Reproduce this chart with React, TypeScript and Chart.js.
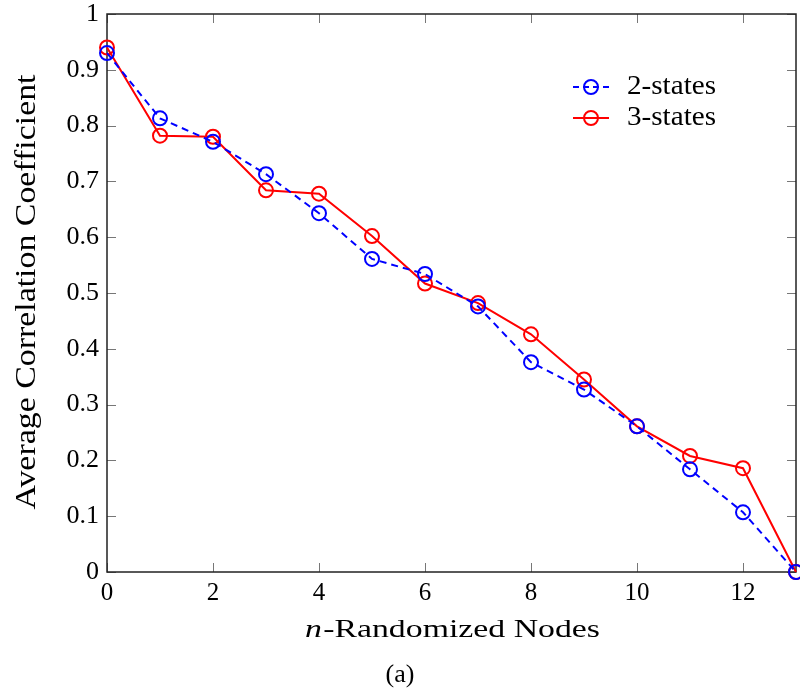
import React, { useEffect, useRef } from "react";
import { Chart, registerables } from "chart.js";

Chart.register(...registerables);

const nodes = [0, 1, 2, 3, 4, 5, 6, 7, 8, 9, 10, 11, 12, 13];
const twoStates = [0.93, 0.813, 0.771, 0.713, 0.643, 0.561, 0.534, 0.476, 0.376, 0.327, 0.261, 0.184, 0.107, 0.0];
const threeStates = [0.94, 0.782, 0.78, 0.684, 0.678, 0.602, 0.517, 0.482, 0.426, 0.345, 0.261, 0.208, 0.186, 0.0];
const seriesLabels = ["2-states", "3-states"];
const xTitleItalic = "n";
const xTitleRest = "-Randomized Nodes";
const yTitle = "Average Correlation Coefficient";
const caption = "(a)";

const FONT = '"Liberation Serif", "DejaVu Serif", serif';

const decorPlugin = {
  id: "decor",
  beforeDatasetsDraw(chart: any) {
    const { ctx, chartArea } = chart;
    const { left, right, top, bottom } = chartArea;
    const xs = chart.scales.x;
    const ys = chart.scales.y;
    ctx.save();
    ctx.strokeStyle = "#777";
    ctx.lineWidth = 1;
    const tl = 9;
    xs.ticks.forEach((t: any) => {
      const px = Math.round(xs.getPixelForValue(t.value)) + 0.5;
      ctx.beginPath();
      ctx.moveTo(px, bottom);
      ctx.lineTo(px, bottom - tl);
      ctx.moveTo(px, top);
      ctx.lineTo(px, top + tl);
      ctx.stroke();
    });
    ys.ticks.forEach((t: any) => {
      const py = Math.round(ys.getPixelForValue(t.value)) + 0.5;
      ctx.beginPath();
      ctx.moveTo(left, py);
      ctx.lineTo(left + tl, py);
      ctx.moveTo(right, py);
      ctx.lineTo(right - tl, py);
      ctx.stroke();
    });
    ctx.strokeStyle = "#222";
    ctx.lineWidth = 1.5;
    ctx.strokeRect(left, top, right - left, bottom - top);
    ctx.restore();
  },
  afterDraw(chart: any) {
    const { ctx } = chart;
    ctx.save();
    ctx.fillStyle = "#000";
    ctx.textBaseline = "alphabetic";
    // y title (rotated, stretched along its length)
    ctx.font = `30px ${FONT}`;
    const yw = ctx.measureText(yTitle).width;
    ctx.save();
    ctx.translate(35, 292);
    ctx.rotate(-Math.PI / 2);
    ctx.scale(435 / yw, 1);
    ctx.textAlign = "center";
    ctx.fillText(yTitle, 0, 0);
    ctx.restore();
    // x title
    const italicFont = `italic 26px ${FONT}`;
    const regFont = `26px ${FONT}`;
    ctx.font = italicFont;
    const w1 = ctx.measureText(xTitleItalic).width;
    ctx.font = regFont;
    const w2 = ctx.measureText(xTitleRest).width;
    const total = w1 + 1 + w2;
    const sx = 295 / total;
    ctx.save();
    ctx.translate(305, 637);
    ctx.scale(sx, 1);
    ctx.textAlign = "left";
    ctx.font = italicFont;
    ctx.fillText(xTitleItalic, 0, 0);
    ctx.font = regFont;
    ctx.fillText(xTitleRest, w1 + 1, 0);
    ctx.restore();
    // caption
    ctx.font = `26px ${FONT}`;
    ctx.textAlign = "center";
    ctx.fillText(caption, 400, 682);
    // legend
    const rows = [
      { y: 87, color: "#0000ff", dash: [6, 4], label: seriesLabels[0] },
      { y: 118, color: "#ff0000", dash: [], label: seriesLabels[1] },
    ];
    rows.forEach((r) => {
      ctx.strokeStyle = r.color;
      ctx.lineWidth = 2;
      ctx.setLineDash(r.dash);
      ctx.beginPath();
      ctx.moveTo(573, r.y);
      ctx.lineTo(609, r.y);
      ctx.stroke();
      ctx.setLineDash([]);
      ctx.beginPath();
      ctx.arc(591, r.y, 7, 0, Math.PI * 2);
      ctx.stroke();
      ctx.fillStyle = "#000";
      ctx.font = `27px ${FONT}`;
      const lw = ctx.measureText(r.label).width;
      ctx.save();
      ctx.translate(627, r.y);
      ctx.scale(89 / lw, 1);
      ctx.textAlign = "left";
      ctx.textBaseline = "middle";
      ctx.fillText(r.label, 0, 0);
      ctx.restore();
    });
    ctx.restore();
  },
};

export default function App() {
  const ref = useRef<HTMLCanvasElement | null>(null);
  useEffect(() => {
    if (!ref.current) return;
    const chart = new Chart(ref.current, {
      type: "line",
      data: {
        datasets: [
          {
            label: seriesLabels[0],
            data: nodes.map((n, i) => ({ x: n, y: twoStates[i] })),
            borderColor: "#0000ff",
            borderWidth: 2,
            borderDash: [7, 5],
            pointRadius: 7,
            pointBorderWidth: 2,
            pointBorderColor: "#0000ff",
            pointBackgroundColor: "rgba(0,0,0,0)",
            clip: false,
            tension: 0,
          } as any,
          {
            label: seriesLabels[1],
            data: nodes.map((n, i) => ({ x: n, y: threeStates[i] })),
            borderColor: "#ff0000",
            borderWidth: 2,
            pointRadius: 7,
            pointBorderWidth: 2,
            pointBorderColor: "#ff0000",
            pointBackgroundColor: "rgba(0,0,0,0)",
            clip: false,
            tension: 0,
          } as any,
        ],
      },
      options: {
        animation: false,
        responsive: false,
        events: [],
        layout: { autoPadding: false, padding: { top: 14, right: 4, left: 0, bottom: 0 } },
        plugins: { legend: { display: false }, tooltip: { enabled: false } },
        scales: {
          x: {
            type: "linear",
            min: 0,
            max: 13,
            grid: { display: false, drawTicks: false },
            border: { display: false },
            ticks: {
              stepSize: 2,
              includeBounds: false,
              padding: 9,
              color: "#000",
              font: { family: FONT, size: 25, lineHeight: 1 },
              maxRotation: 0,
            },
            afterFit(scale: any) {
              scale.height = 124;
              scale.paddingLeft = 0;
              scale.paddingRight = 0;
            },
          } as any,
          y: {
            type: "linear",
            min: 0,
            max: 1,
            grid: { display: false, drawTicks: false },
            border: { display: false },
            ticks: {
              stepSize: 0.1,
              padding: 8,
              color: "#000",
              font: { family: FONT, size: 26, lineHeight: 1 },
              callback: (v: any) => {
                const r = Math.round(Number(v) * 10) / 10;
                if (r === 0) return "0";
                if (r === 1) return "1";
                return r.toFixed(1);
              },
            },
            afterFit(scale: any) {
              scale.width = 107;
              scale.paddingTop = 0;
              scale.paddingBottom = 0;
            },
          } as any,
        },
      },
      plugins: [decorPlugin],
    });
    return () => chart.destroy();
  }, []);
  return (
    <div style={{ position: "fixed", left: 0, top: 0, width: 800, height: 696, background: "#fff" }}>
      <canvas ref={ref} width={800} height={696} style={{ display: "block" }} />
    </div>
  );
}
